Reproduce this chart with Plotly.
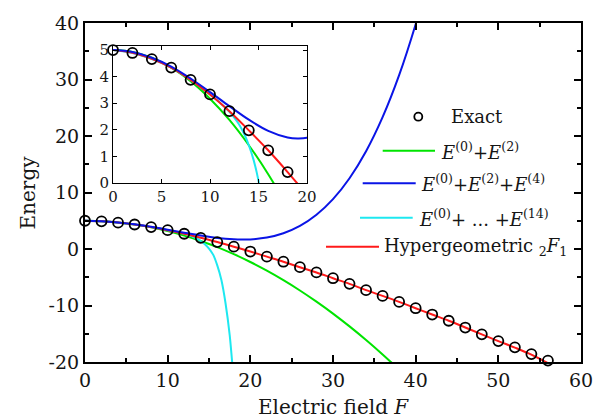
import plotly.graph_objects as go

# ---- data ----
F_exact = [0, 2, 4, 6, 8, 10, 12, 14, 16, 18, 20, 22, 24, 26, 28, 30, 32, 34, 36, 38,
           40, 42, 44, 46, 48, 50, 52, 54, 56]
E_exact = [5.0, 4.89, 4.66, 4.34, 3.88, 3.33, 2.70, 1.98, 1.23, 0.41, -0.45, -1.35, -2.25,
           -3.22, -4.15, -5.17, -6.17, -7.28, -8.30, -9.36, -10.48, -11.60, -12.70, -13.90,
           -15.10, -16.30, -17.40, -18.60, -19.75]

F_hyper = [0, 2, 4, 6, 8, 10, 12, 14, 16, 18, 20, 22, 24, 26, 28, 30, 32, 34, 36, 38,
           40, 42, 44, 46, 48, 50, 52, 54, 56]
E_hyper = [5.0, 4.90, 4.67, 4.34, 3.88, 3.33, 2.70, 1.98, 1.23, 0.41, -0.45, -1.35, -2.25,
           -3.22, -4.15, -5.17, -6.17, -7.28, -8.30, -9.36, -10.48, -11.60, -12.70, -13.90,
           -15.10, -16.30, -17.45, -18.70, -20.20]

F_e2 = [0, 2, 4, 6, 8, 10, 12, 14, 16, 18, 20, 22, 24, 26, 28, 30, 32, 34, 36, 37, 38]
E_e2 = [5.00, 4.93, 4.71, 4.34, 3.83, 3.17, 2.37, 1.42, 0.33, -0.92, -2.30, -3.84, -5.52,
        -7.34, -9.32, -11.43, -13.70, -16.11, -18.66, -20.00, -21.37]

F_e4 = [0, 2, 4, 6, 8, 10, 12, 14, 16, 18, 19, 20, 22, 24, 26, 28, 30, 32, 34, 36, 38, 40, 41]
E_e4 = [5.00, 4.93, 4.71, 4.38, 3.93, 3.42, 2.89, 2.38, 1.96, 1.71, 1.67, 1.70, 2.02, 2.78,
        4.08, 6.05, 8.82, 12.52, 17.30, 23.33, 30.76, 39.78, 44.95]

F_e14 = [0, 2, 4, 6, 8, 10, 11, 12, 12.5, 13, 13.5, 14, 14.5, 15, 15.5, 16, 16.5, 17,
         17.5, 17.8, 18]
E_e14 = [5.0, 4.89, 4.66, 4.34, 3.88, 3.33, 3.03, 2.68, 2.46, 2.20, 1.86, 1.42, 0.86, 0.08,
         -1.0, -2.9, -5.5, -9.6, -15.2, -20.0, -23.0]

main_xticks = [0, 10, 20, 30, 40, 50, 60]
main_xlabels = ["0", "10", "20", "30", "40", "50", "60"]
main_yticks = [-20, -10, 0, 10, 20, 30, 40]
main_ylabels = ["-20", "-10", "0", "10", "20", "30", "40"]
inset_xticks = [0, 5, 10, 15, 20]
inset_yticks = [0, 1, 2, 3, 4, 5]

GREEN = "#00e400"
BLUE = "#0a14e6"
CYAN = "#1ee8f0"
RED = "#ff1a1a"
FONT = "DejaVu Serif"
TXT = "#151515"

fig = go.Figure()

def add_curves(xa, ya):
    fig.add_trace(go.Scatter(x=F_e2, y=E_e2, mode="lines", line=dict(color=GREEN, width=2, shape="spline"),
                             xaxis=xa, yaxis=ya, showlegend=False))
    fig.add_trace(go.Scatter(x=F_e14, y=E_e14, mode="lines", line=dict(color=CYAN, width=2, shape="spline"),
                             xaxis=xa, yaxis=ya, showlegend=False))
    fig.add_trace(go.Scatter(x=F_hyper, y=E_hyper, mode="lines", line=dict(color=RED, width=2, shape="spline"),
                             xaxis=xa, yaxis=ya, showlegend=False))
    fig.add_trace(go.Scatter(x=F_e4, y=E_e4, mode="lines", line=dict(color=BLUE, width=2, shape="spline"),
                             xaxis=xa, yaxis=ya, showlegend=False))
    fig.add_trace(go.Scatter(x=F_exact, y=E_exact, mode="markers",
                             marker=dict(symbol="circle-open", size=10, color="black", line=dict(width=1.8)),
                             xaxis=xa, yaxis=ya, showlegend=False, cliponaxis=False))

add_curves("x", "y")
add_curves("x2", "y2")

axis_common = dict(showline=True, linecolor="black", mirror="ticks", ticks="inside",
                   tickcolor="black", showgrid=False, zeroline=False)

fig.update_layout(
    width=607, height=420,
    margin=dict(l=85, r=26, t=23, b=58),
    paper_bgcolor="white", plot_bgcolor="white",
    font=dict(family=FONT, color=TXT),
    showlegend=False,
    xaxis=dict(range=[0, 60], tickvals=main_xticks, ticktext=main_xlabels, linewidth=2, tickwidth=2,
               ticklen=7, automargin=False,
               minor=dict(dtick=5, ticklen=4, tickwidth=1.5, ticks="inside", tickcolor="black"),
               tickfont=dict(size=19, family=FONT, color=TXT), **axis_common),
    yaxis=dict(range=[-20, 40], tickvals=main_yticks, ticktext=main_ylabels, linewidth=2, tickwidth=2,
               ticklen=7, automargin=False,
               minor=dict(dtick=5, ticklen=4, tickwidth=1.5, ticks="inside", tickcolor="black"),
               tickfont=dict(size=19, family=FONT, color=TXT), **axis_common),
    xaxis2=dict(range=[0, 20], tickvals=inset_xticks, domain=[0.0565, 0.4476], anchor="y2",
                linewidth=1, tickwidth=1, ticklen=4,
                tickfont=dict(size=15, family=FONT, color=TXT), **axis_common),
    yaxis2=dict(range=[0, 5.15], tickvals=inset_yticks, domain=[0.528, 0.932], anchor="x2",
                linewidth=1, tickwidth=1, ticklen=4,
                tickfont=dict(size=15, family=FONT, color=TXT), **axis_common),
)

# axis titles
def px_x(p):
    return (p - 85) / 496.0

def px_y(p):
    return (362 - p) / 339.0

fig.add_annotation(text="Electric field <i>F</i>", x=0.5, y=px_y(407), xref="paper", yref="paper",
                   showarrow=False, font=dict(size=20, family=FONT, color=TXT),
                   xanchor="center", yanchor="middle")
fig.add_annotation(text="Energy", x=px_x(27), y=0.5, xref="paper", yref="paper", textangle=-90,
                   showarrow=False, font=dict(size=20, family=FONT, color=TXT),
                   xanchor="center", yanchor="middle")

# manual legend
legend_items = [
    ("marker", "black", 418.3, 116.7, 449, "Exact"),
    ("line", GREEN, (382.7, 435), 150.7, 439, "<i>E</i><sup>(0)</sup>+<i>E</i><sup>(2)</sup>"),
    ("line", BLUE, (362.7, 415.7), 183.3, 419,
     "<i>E</i><sup>(0)</sup>+<i>E</i><sup>(2)</sup>+<i>E</i><sup>(4)</sup>"),
    ("line", CYAN, (360, 412.7), 217.7, 417, "<i>E</i><sup>(0)</sup>+ ... +<i>E</i><sup>(14)</sup>"),
    ("line", RED, (326, 379), 246.7, 382, "Hypergeometric <sub>2</sub><i>F</i><sub>1</sub>"),
]
for kind, col, xs, yy, tx, label in legend_items:
    if kind == "marker":
        fig.add_shape(type="circle", xref="paper", yref="paper",
                      x0=px_x(xs - 4), x1=px_x(xs + 4), y0=px_y(yy + 4), y1=px_y(yy - 4),
                      line=dict(color=col, width=1.8))
    else:
        fig.add_shape(type="line", xref="paper", yref="paper",
                      x0=px_x(xs[0]), x1=px_x(xs[1]), y0=px_y(yy), y1=px_y(yy),
                      line=dict(color=col, width=2))
    fig.add_annotation(text=label, x=px_x(tx), y=px_y(yy), xref="paper", yref="paper",
                       showarrow=False, xanchor="left", yanchor="middle",
                       font=dict(size=18, family=FONT, color=TXT))

fig.write_html("out.html", config={"displayModeBar": False},
               post_script="document.body.style.margin='0px';")
